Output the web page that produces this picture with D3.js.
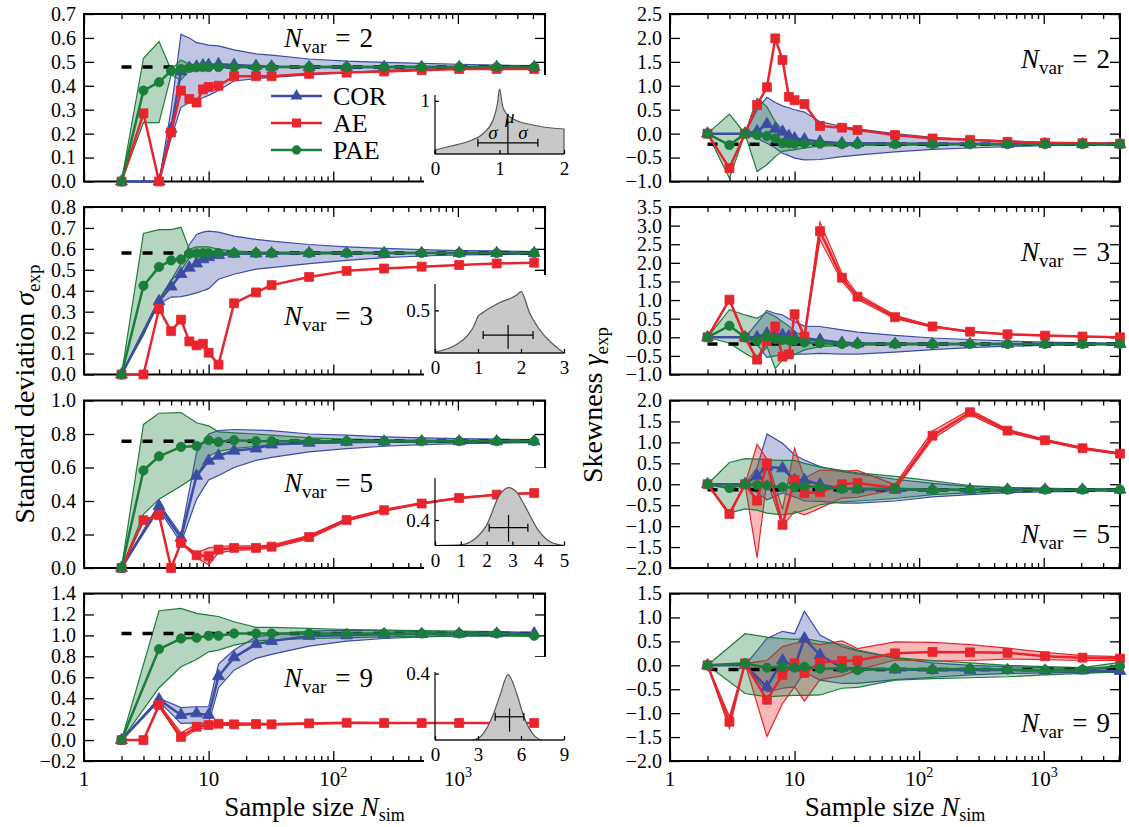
<!DOCTYPE html>
<html>
<head>
<meta charset="utf-8">
<script src="https://cdnjs.cloudflare.com/ajax/libs/d3/7.8.5/d3.min.js"></script>
<style>
  body { margin: 0; background: #fff; }
  svg text { font-family: "Liberation Serif", "Times New Roman", "DejaVu Serif", "Noto Serif", serif; }
</style>
</head>
<body>
<svg id="chart"></svg>
<script>
// sample sizes N_sim
var sampleSizes = [2,3,4,5,6,7,8,9,10,12,16,24,32,64,128,256,512,1024,2048,4096];
var seriesNames = ["COR","AE","PAE"];
var nVarValues = [2,3,5,9];

// true values (dashed)
var sdTrue = [0.478, 0.58, 0.757, 1.018];
var skewTrue = [-0.22, -0.18, -0.13, -0.09];

// tick labels
var xTicks = [1,10,100,1000];
var sdTicks = [
  [0,0.1,0.2,0.3,0.4,0.5,0.6,0.7],
  [0,0.1,0.2,0.3,0.4,0.5,0.6,0.7,0.8],
  [0,0.2,0.4,0.6,0.8,1.0],
  [-0.2,0,0.2,0.4,0.6,0.8,1.0,1.2,1.4]
];
var skewTicks = [
  [-1,-0.5,0,0.5,1,1.5,2,2.5],
  [-1,-0.5,0,0.5,1,1.5,2,2.5,3,3.5],
  [-2,-1.5,-1,-0.5,0,0.5,1,1.5,2],
  [-2,-1.5,-1,-0.5,0,0.5,1,1.5]
];

// standard deviation, N_var = 2
var sd2COR   = [0,null,0,0.22,0.46,0.475,0.48,0.485,0.487,0.49,0.487,0.483,0.48,0.478,0.478,0.478,0.478,0.478,0.478,0.478];
var sd2CORlo = [0,null,0,0.18,0.31,0.33,0.34,0.35,0.36,0.38,0.42,0.43,0.435,0.445,0.455,0.465,0.47,0.472,0.474,0.475];
var sd2CORhi = [0,null,0,0.3,0.615,0.6,0.58,0.575,0.57,0.567,0.55,0.533,0.528,0.512,0.503,0.498,0.494,0.49,0.486,0.484];
var sd2AE    = [0,0.285,0,0.205,0.38,0.345,0.33,0.385,0.395,0.40,0.44,0.44,0.44,0.45,0.455,0.46,0.465,0.47,0.47,0.47];
var sd2PAE   = [0,0.38,0.415,0.462,0.47,0.475,0.477,0.478,0.478,0.478,0.478,0.478,0.478,0.478,0.478,0.478,0.478,0.478,0.478,0.478];
var sd2PAElo = [0,0.246,0.246,0.445,0.424,0.465,0.47,0.472,0.473,0.475,0.476,0.477,0.477,0.477,0.477,0.477,0.477,0.477,0.477,0.477];
var sd2PAEhi = [0,0.515,0.585,0.466,0.508,0.49,0.485,0.483,0.482,0.48,0.48,0.479,0.479,0.479,0.479,0.479,0.479,0.479,0.479,0.479];

// standard deviation, N_var = 3
var sd3COR   = [0,null,0.35,0.42,0.48,0.51,0.53,0.55,0.56,0.57,0.577,0.578,0.578,0.58,0.58,0.58,0.58,0.58,0.58,0.58];
var sd3CORlo = [0,null,0.337,0.37,0.372,0.38,0.39,0.40,0.41,0.455,0.479,0.503,0.51,0.53,0.545,0.558,0.566,0.571,0.573,0.574];
var sd3CORhi = [0,null,0.36,0.45,0.53,0.62,0.669,0.68,0.685,0.68,0.661,0.645,0.637,0.621,0.61,0.602,0.596,0.592,0.59,0.587];
var sd3AE    = [0,0,0.313,0.207,0.262,0.158,0.139,0.147,0.104,0.047,0.34,0.392,0.427,0.466,0.495,0.506,0.515,0.523,0.53,0.534];
var sd3PAE   = [0,0.424,0.514,0.545,0.55,0.577,0.578,0.579,0.579,0.58,0.58,0.58,0.58,0.58,0.58,0.58,0.58,0.58,0.58,0.58];
var sd3PAElo = [0,0.187,0.353,0.447,0.495,0.558,0.566,0.568,0.571,0.574,0.575,0.576,0.577,0.577,0.578,0.578,0.578,0.578,0.578,0.578];
var sd3PAEhi = [0,0.674,0.692,0.692,0.703,0.598,0.61,0.61,0.61,0.598,0.59,0.585,0.584,0.583,0.582,0.582,0.582,0.582,0.582,0.582];

// standard deviation, N_var = 5
var sd5COR   = [0,null,0.37,null,0.18,null,0.55,null,0.64,0.67,0.70,0.713,0.737,0.747,0.753,0.755,0.756,0.756,0.756,0.756];
var sd5CORlo = [0,null,0.35,null,0.15,null,0.41,null,0.526,0.552,0.6,0.643,0.66,0.693,0.713,0.727,0.737,0.743,0.746,0.749];
var sd5CORhi = [0,null,0.385,null,0.2,null,0.69,null,0.80,0.82,0.827,0.823,0.82,0.80,0.793,0.783,0.777,0.772,0.769,0.767];
var sd5AE    = [0,0.285,0.315,0,0.15,null,0.076,null,0.07,0.11,0.12,0.12,0.127,0.185,0.287,0.345,0.385,0.418,0.438,0.448];
var sd5AElo  = [0,0.285,0.315,0,0.15,null,0.06,null,0.02,0.09,0.105,0.11,0.118,0.175,0.28,0.34,0.382,0.415,0.436,0.446];
var sd5AEhi  = [0,0.285,0.315,0,0.15,null,0.09,null,0.12,0.13,0.132,0.132,0.137,0.195,0.295,0.35,0.39,0.421,0.44,0.45];
var sd5PAE   = [0,0.582,0.667,null,0.723,null,0.729,null,0.763,0.753,0.763,0.757,0.757,0.757,0.757,0.757,0.757,0.757,0.757,0.757];
var sd5PAElo = [0,0.32,0.41,null,0.49,null,0.55,null,0.667,0.697,0.713,0.727,0.737,0.743,0.747,0.75,0.75,0.75,0.75,0.75];
var sd5PAEhi = [0,0.857,0.924,null,0.928,null,0.867,null,0.849,0.813,0.807,0.8,0.793,0.777,0.769,0.765,0.763,0.763,0.763,0.763];

// standard deviation, N_var = 9
var sd9COR   = [0,null,0.388,null,0.24,null,0.255,null,0.24,0.61,0.79,0.916,0.945,0.993,1.0,1.01,1.012,1.015,1.017,1.018];
var sd9CORlo = [0,null,0.37,null,0.16,null,0.165,null,0.16,0.5,0.668,0.78,0.818,0.897,0.945,0.97,0.986,0.996,1.0,1.0];
var sd9CORhi = [0,null,0.40,null,0.31,null,0.318,null,0.318,0.725,0.86,0.986,1.008,1.04,1.05,1.045,1.035,1.03,1.025,1.025];
var sd9AE    = [0,0,0.334,null,0.03,null,0.127,null,0.143,0.156,0.15,0.153,0.15,0.159,0.165,0.163,0.162,0.163,0.163,0.163];
var sd9AElo  = [0,0,0.32,null,0.005,null,0.1,null,0.125,0.14,0.14,0.145,0.143,0.153,0.16,0.158,0.158,0.16,0.16,0.16];
var sd9AEhi  = [0,0,0.345,null,0.07,null,0.15,null,0.16,0.17,0.165,0.162,0.158,0.165,0.17,0.168,0.166,0.166,0.166,0.166];
var sd9PAE   = [0,null,0.869,null,0.97,null,0.977,null,0.996,0.996,1.018,1.018,1.018,1.018,1.018,1.018,1.018,1.018,1.018,0.996];
var sd9PAElo = [0,null,0.5,null,0.7,null,0.77,null,0.843,0.859,0.907,0.948,0.955,0.97,0.977,0.986,0.99,0.993,0.993,0.99];
var sd9PAEhi = [0,null,1.235,null,1.257,null,1.21,null,1.194,1.18,1.13,1.076,1.076,1.066,1.056,1.05,1.045,1.04,1.035,1.03];

// skewness, N_var = 2
var sk2COR   = [0,null,0,0.05,0.2,0.1,0.04,-0.05,-0.1,-0.12,-0.17,-0.2,-0.2,-0.21,-0.21,-0.21,-0.22,-0.22,-0.22,-0.22];
var sk2CORlo = [0,null,0,-0.1,-0.2,-0.3,-0.41,-0.46,-0.51,-0.55,-0.54,-0.48,-0.45,-0.38,-0.33,-0.3,-0.27,-0.25,-0.24,-0.23];
var sk2CORhi = [0,null,0,0.5,0.76,0.65,0.58,0.54,0.5,0.45,0.25,0.15,0.1,0.0,-0.08,-0.12,-0.15,-0.18,-0.19,-0.2];
var sk2AE    = [0,-0.72,0,0.6,0.97,1.99,1.54,0.77,0.7,0.62,0.16,0.125,0.077,-0.03,-0.1,-0.13,-0.17,-0.19,-0.2,-0.21];
var sk2PAE   = [0,-0.24,0,-0.03,-0.05,-0.1,-0.2,-0.2,-0.21,-0.21,-0.21,-0.22,-0.22,-0.22,-0.22,-0.22,-0.22,-0.22,-0.22,-0.22];
var sk2PAElo = [0,-0.93,0,-0.79,-0.65,-0.48,-0.37,-0.35,-0.34,-0.3,-0.26,-0.25,-0.24,-0.24,-0.23,-0.23,-0.23,-0.23,-0.23,-0.23];
var sk2PAEhi = [0,0.41,0,0.74,0.56,0.25,0.08,-0.1,-0.1,-0.12,-0.17,-0.19,-0.2,-0.2,-0.21,-0.21,-0.21,-0.21,-0.21,-0.21];

// skewness, N_var = 3
var sk3COR   = [0,null,0,0,0.1,0.08,0.06,0.03,0,-0.05,-0.07,-0.15,-0.17,-0.18,-0.18,-0.18,-0.18,-0.18,-0.18,-0.18];
var sk3CORlo = [0,null,0,-0.2,-0.54,-0.5,-0.48,-0.46,-0.45,-0.45,-0.43,-0.45,-0.45,-0.4,-0.33,-0.28,-0.24,-0.22,-0.2,-0.2];
var sk3CORhi = [0,null,0,0.38,0.72,0.64,0.6,0.5,0.42,0.3,0.29,0.2,0.14,0.05,-0.02,-0.06,-0.1,-0.13,-0.15,-0.16];
var sk3AE    = [0,1.01,0,-0.6,-0.1,0.29,-0.52,-0.46,0.62,0.02,2.85,1.6,1.09,0.54,0.29,0.15,0.08,0.045,0.02,0];
var sk3AElo  = [0,1.01,0,-0.6,-0.1,0.29,-0.52,-0.46,0.62,0.02,2.62,1.5,1.02,0.5,0.27,0.14,0.075,0.04,0.015,-0.005];
var sk3AEhi  = [0,1.01,0,-0.6,-0.1,0.29,-0.52,-0.46,0.62,0.02,3.1,1.72,1.16,0.59,0.31,0.16,0.085,0.05,0.025,0.005];
var sk3PAE   = [0,0.31,0,-0.09,0.02,-0.05,-0.07,-0.08,-0.09,-0.14,-0.16,-0.18,-0.18,-0.18,-0.18,-0.18,-0.18,-0.18,-0.18,-0.18];
var sk3PAElo = [0,-0.16,-0.43,-0.61,-0.25,-0.84,-0.61,-0.56,-0.47,-0.34,-0.25,-0.22,-0.21,-0.2,-0.19,-0.19,-0.19,-0.19,-0.19,-0.19];
var sk3PAEhi = [0,0.74,0.6,0.51,0.67,0.56,0.42,0.3,0.15,0.02,-0.08,-0.13,-0.15,-0.16,-0.17,-0.17,-0.17,-0.17,-0.17,-0.17];

// skewness, N_var = 5
var sk5COR   = [0,null,0,0.2,0.42,null,0.38,null,0.1,0.1,-0.01,-0.1,-0.12,-0.13,-0.13,-0.13,-0.13,-0.13,-0.13,-0.13];
var sk5CORlo = [0,null,0,-0.2,-0.37,null,-0.21,null,-0.3,-0.4,-0.41,-0.45,-0.45,-0.4,-0.3,-0.25,-0.2,-0.18,-0.17,-0.16];
var sk5CORhi = [0,null,0,0.4,1.2,null,0.98,null,0.7,0.58,0.42,0.3,0.25,0.12,0.02,-0.05,-0.08,-0.1,-0.11,-0.11];
var sk5AE    = [0,-0.71,0,-0.39,0.5,null,-0.97,null,0.1,-0.21,-0.19,0,0.03,-0.09,1.16,1.72,1.28,1.05,0.86,0.73];
var sk5AElo  = [0,-0.75,0,-1.76,0.1,null,-1.0,null,-0.65,-0.73,-0.57,-0.33,-0.31,-0.13,1.08,1.66,1.24,1.03,0.84,0.71];
var sk5AEhi  = [0,-0.68,0,0.95,0.6,null,-0.6,null,0.86,0.15,0.34,0.31,0.33,-0.01,1.27,1.78,1.31,1.07,0.88,0.75];
var sk5PAE   = [0,-0.09,0,-0.02,-0.03,null,-0.07,null,-0.07,-0.04,-0.07,-0.11,-0.11,-0.11,-0.13,-0.13,-0.13,-0.13,-0.13,-0.13];
var sk5PAElo = [0,-0.69,-0.59,-0.62,-0.69,null,-0.73,null,-0.69,-0.62,-0.49,-0.42,-0.4,-0.34,-0.25,-0.2,-0.17,-0.15,-0.15,-0.14];
var sk5PAEhi = [0,0.52,0.61,0.6,0.58,null,0.57,null,0.57,0.5,0.41,0.33,0.27,0.19,0.08,-0.03,-0.08,-0.1,-0.11,-0.12];

// skewness, N_var = 9
var sk9COR   = [0,null,0,null,-0.45,null,0.1,null,-0.03,0.56,0.21,-0.05,-0.07,-0.09,-0.1,-0.1,-0.1,-0.11,-0.11,-0.12];
var sk9CORlo = [0,null,0,null,-0.56,null,-0.48,null,-0.45,-0.14,-0.31,-0.38,-0.38,-0.3,-0.25,-0.2,-0.17,-0.16,-0.15,-0.15];
var sk9CORhi = [0,null,0,null,0.56,null,0.71,null,0.66,1.13,0.63,0.39,0.3,0.15,0.05,0,-0.03,-0.05,-0.06,-0.07];
var sk9AE    = [0,-1.18,0.04,null,-0.72,null,-0.2,null,0.04,-0.16,0.06,0.09,0.1,0.25,0.28,0.27,0.26,0.19,0.16,0.14];
var sk9AElo  = [0,-1.32,0.04,null,-1.49,null,-0.8,null,-0.45,-0.75,-0.3,-0.22,-0.1,0.11,0.09,0.1,0.13,0.12,0.1,0.1];
var sk9AEhi  = [0,-1.07,0.04,null,0.1,null,0.39,null,0.46,0.49,0.43,0.51,0.35,0.49,0.48,0.43,0.36,0.27,0.2,0.18];
var sk9PAE   = [0,null,0.04,null,-0.05,null,-0.03,null,-0.05,-0.03,-0.07,-0.06,-0.1,-0.07,-0.09,-0.07,-0.09,-0.1,-0.09,-0.02];
var sk9PAElo = [0,null,-0.59,null,-0.66,null,-0.64,null,-0.63,-0.63,-0.62,-0.48,-0.46,-0.31,-0.28,-0.26,-0.24,-0.2,-0.17,-0.14];
var sk9PAEhi = [0,null,0.66,null,0.59,null,0.56,null,0.54,0.56,0.5,0.44,0.32,0.16,0.1,0.05,0,-0.03,-0.05,0.06];

// inset distributions (one per N_var)
var insetX2 = [0,0.25,0.5,0.75,0.9,0.97,1.0,1.05,1.1,1.2,1.5,2.0];
var insetY2 = [0.075,0.15,0.23,0.39,0.64,0.96,1.22,0.89,0.77,0.67,0.55,0.47];
var insetX3 = [0,0.5,0.75,0.9,1.0,1.1,1.5,1.9,2.0,2.2,2.5,2.8,3.0];
var insetY3 = [0.01,0.10,0.2,0.31,0.43,0.47,0.59,0.68,0.72,0.47,0.23,0.08,0.0];
var insetX5 = [0,1,1.5,2,2.5,2.85,3.2,3.5,4,4.5,5];
var insetY5 = [0,0.01,0.09,0.32,0.79,0.91,0.82,0.61,0.24,0.05,0];
var insetX9 = [0,2.5,3,4,4.5,5.1,5.7,6.2,7,7.5,9];
var insetY9 = [0,0,0.01,0.14,0.26,0.394,0.28,0.14,0.02,0,0];
var insetXTicks = [[0,1,2],[0,1,2,3],[0,1,2,3,4,5],[0,3,6,9]];
var insetYTicks = [[1],[0.5],[0.4],[0.4]];
var insetYMax = [1.11,0.81,1.06,0.41];
var insetMu = [1.13,1.7,2.85,5.2];
var insetSigma = [0.465,0.58,0.75,1.0];
var insetBarY = [0.21,0.21,0.28,0.14];
var insetBarV = [[0,0.67],[0.05,0.33],[0.06,0.48],[0.05,0.19]];

// ---------------- layout ----------------
var W = 1129, H = 827;
var svg = d3.select("#chart").attr("width", W).attr("height", H);
var colX = [[84, 545], [670, 1120]];
var xDomains = [[1, 5000], [1, 4096]];
var rowTops = [14, 207, 400.5, 593.5], rowH = 167.5;
var colors = {COR: "#3b4ca5", AE: "#e8252c", PAE: "#1b7d3a"};
var symbols = {COR: d3.symbolTriangle, AE: d3.symbolSquare, PAE: d3.symbolCircle};
var symSize = {COR: 62, AE: 80, PAE: 68};
var fontStack = '"Liberation Serif", "Times New Roman", "DejaVu Serif", "Noto Serif", serif';
var nvarPos = [[[284, 47], [284, 325], [284, 492], [284, 687]],
               [[1110, 68], [1110, 261], [1110, 543], [1110, 732]]];
var insetTop = [95, 284, 478, 672], insetBottom = [154, 353, 545.5, 740], insetBg = [75, 275, 468, 657];

var sdPanels = [
  [[sd2COR, sd2CORlo, sd2CORhi], [sd2AE, null, null], [sd2PAE, sd2PAElo, sd2PAEhi]],
  [[sd3COR, sd3CORlo, sd3CORhi], [sd3AE, null, null], [sd3PAE, sd3PAElo, sd3PAEhi]],
  [[sd5COR, sd5CORlo, sd5CORhi], [sd5AE, sd5AElo, sd5AEhi], [sd5PAE, sd5PAElo, sd5PAEhi]],
  [[sd9COR, sd9CORlo, sd9CORhi], [sd9AE, sd9AElo, sd9AEhi], [sd9PAE, sd9PAElo, sd9PAEhi]]
];
var skPanels = [
  [[sk2COR, sk2CORlo, sk2CORhi], [sk2AE, null, null], [sk2PAE, sk2PAElo, sk2PAEhi]],
  [[sk3COR, sk3CORlo, sk3CORhi], [sk3AE, sk3AElo, sk3AEhi], [sk3PAE, sk3PAElo, sk3PAEhi]],
  [[sk5COR, sk5CORlo, sk5CORhi], [sk5AE, sk5AElo, sk5AEhi], [sk5PAE, sk5PAElo, sk5PAEhi]],
  [[sk9COR, sk9CORlo, sk9CORhi], [sk9AE, sk9AElo, sk9AEhi], [sk9PAE, sk9PAElo, sk9PAEhi]]
];
var insetXs = [insetX2, insetX3, insetX5, insetX9];
var insetYs = [insetY2, insetY3, insetY5, insetY9];

function styleAxis(a, size) {
  a.select(".domain").remove();
  a.selectAll(".tick line").attr("stroke", "#000").attr("stroke-width", 1.3);
  a.attr("font-family", fontStack).attr("font-size", size);
  a.selectAll(".tick text").attr("fill", "#000");
  return a;
}

function drawPanel(col, row) {
  var g = svg.append("g");
  var x0 = colX[col][0], x1 = colX[col][1];
  var top = rowTops[row], bottom = top + rowH;
  var ticks = col === 0 ? sdTicks[row] : skewTicks[row];
  var x = d3.scaleLog().domain(xDomains[col]).range([x0, x1]);
  var y = d3.scaleLinear().domain([ticks[0], ticks[ticks.length - 1]]).range([bottom, top]);

  var minor = [];
  for (var k = 0; k < 4; k++) for (var m = 2; m <= 9; m++) {
    var v = m * Math.pow(10, k);
    if (v <= xDomains[col][1]) minor.push(v);
  }

  styleAxis(g.append("g").attr("transform", "translate(" + x0 + ",0)")
    .call(d3.axisLeft(y).tickValues(ticks).tickSizeInner(-10).tickSizeOuter(0).tickPadding(8)
      .tickFormat(d3.format(".1f"))), 20);
  styleAxis(g.append("g").attr("transform", "translate(" + x1 + ",0)")
    .call(d3.axisRight(y).tickValues(ticks).tickSizeInner(-10).tickSizeOuter(0).tickFormat("")), 20);
  [[d3.axisBottom, bottom], [d3.axisTop, top]].forEach(function (p) {
    styleAxis(g.append("g").attr("transform", "translate(0," + p[1] + ")")
      .call(p[0](x).tickValues(xTicks).tickSizeInner(-10).tickSizeOuter(0).tickFormat("")), 20);
    styleAxis(g.append("g").attr("transform", "translate(0," + p[1] + ")")
      .call(p[0](x).tickValues(minor).tickSizeInner(-5).tickSizeOuter(0).tickFormat("")), 20);
  });
  g.append("rect").attr("x", x0).attr("y", top).attr("width", x1 - x0).attr("height", rowH)
    .attr("fill", "none").attr("stroke", "#000").attr("stroke-width", 2);

  if (row === 3) {
    var lab = g.append("g").selectAll("text").data(xTicks).join("text")
      .attr("x", function (d) { return x(d); }).attr("y", bottom + 25)
      .attr("text-anchor", "middle").attr("font-size", 21);
    lab.each(function (d) {
      var t = d3.select(this);
      if (d < 100) { t.text(d); return; }
      t.append("tspan").text("10");
      t.append("tspan").attr("font-size", 14).attr("dy", -9).text(String(Math.round(Math.log10(d))));
    });
  }

  if (col === 0) {
    g.append("rect").attr("x", 424).attr("y", insetBg[row]).attr("width", 160)
      .attr("height", bottom + 3 - insetBg[row]).attr("fill", "#fff");
  }

  var data = col === 0 ? sdPanels[row] : skPanels[row];
  var Ns = sampleSizes;
  // bands
  data.forEach(function (s, si) {
    var lo = s[1], hi = s[2];
    if (!lo) return;
    var c = colors[seriesNames[si]];
    var ids = d3.range(Ns.length).filter(function (i) { return lo[i] !== null && hi[i] !== null; });
    g.append("path").datum(ids)
      .attr("d", d3.area().x(function (i) { return x(Ns[i]); })
        .y0(function (i) { return y(lo[i]); }).y1(function (i) { return y(hi[i]); }))
      .attr("fill", c).attr("fill-opacity", 0.32).attr("stroke", "none");
    [lo, hi].forEach(function (arr) {
      g.append("path").datum(ids)
        .attr("d", d3.line().x(function (i) { return x(Ns[i]); }).y(function (i) { return y(arr[i]); }))
        .attr("fill", "none").attr("stroke", c).attr("stroke-width", 1.2);
    });
  });
  // true value
  var tv = col === 0 ? sdTrue[row] : skewTrue[row];
  g.append("path").datum([Ns[0], Ns[Ns.length - 1]])
    .attr("d", d3.line().x(function (d) { return x(d); }).y(function () { return y(tv); }))
    .attr("fill", "none").attr("stroke", "#000").attr("stroke-width", 3.5)
    .attr("stroke-dasharray", "10,11");
  // means
  data.forEach(function (s, si) {
    var mean = s[0], name = seriesNames[si], c = colors[name];
    var ids = d3.range(Ns.length).filter(function (i) { return mean[i] !== null; });
    g.append("path").datum(ids)
      .attr("d", d3.line().x(function (i) { return x(Ns[i]); }).y(function (i) { return y(mean[i]); }))
      .attr("fill", "none").attr("stroke", c).attr("stroke-width", 2.5).attr("stroke-linejoin", "round");
    g.append("g").selectAll("path").data(ids).join("path")
      .attr("transform", function (i) { return "translate(" + x(Ns[i]) + "," + y(mean[i]) + ")"; })
      .attr("d", d3.symbol().type(symbols[name]).size(symSize[name]))
      .attr("fill", c).attr("stroke", c).attr("stroke-width", 0.8);
  });

  // N_var label
  var p = nvarPos[col][row];
  var t = g.append("text").attr("x", p[0]).attr("y", p[1]).attr("font-size", 27)
    .attr("text-anchor", col === 0 ? "start" : "end");
  t.append("tspan").attr("font-style", "italic").text("N");
  t.append("tspan").attr("font-size", 19).attr("dy", 6).text("var");
  t.append("tspan").attr("dy", -6).attr("dx", 9).text("=");
  t.append("tspan").attr("dx", 9).text(nVarValues[row]);

  if (col === 0) drawInset(g, row);
  if (col === 0 && row === 0) drawLegend(g);
}

function drawInset(g, i) {
  var xt = insetXTicks[i];
  var xs = d3.scaleLinear().domain([0, xt[xt.length - 1]]).range([435, 564]);
  var ys = d3.scaleLinear().domain([0, insetYMax[i]]).range([insetBottom[i], insetTop[i]]);
  var X = insetXs[i], Y = insetYs[i];
  g.append("path").datum(d3.range(X.length))
    .attr("d", d3.area().curve(d3.curveMonotoneX).x(function (k) { return xs(X[k]); })
      .y0(ys(0)).y1(function (k) { return ys(Y[k]); }))
    .attr("fill", "#c8c8c8").attr("stroke", "#555").attr("stroke-width", 1.2);
  styleAxis(g.append("g").attr("transform", "translate(0," + insetBottom[i] + ")")
    .call(d3.axisBottom(xs).tickValues(xt).tickSizeInner(-4).tickSizeOuter(0).tickPadding(8)
      .tickFormat(d3.format("d"))), 19);
  styleAxis(g.append("g").attr("transform", "translate(435,0)")
    .call(d3.axisLeft(ys).tickValues(insetYTicks[i]).tickSizeInner(-4).tickSizeOuter(0).tickPadding(5)
      .tickFormat(function (d) { return d === 1 ? "1" : d3.format(".1f")(d); })), 19);
  g.append("line").attr("x1", 435).attr("x2", 435).attr("y1", insetTop[i]).attr("y2", insetBottom[i])
    .attr("stroke", "#000").attr("stroke-width", 1.2);
  g.append("line").attr("x1", 435).attr("x2", 564).attr("y1", insetBottom[i]).attr("y2", insetBottom[i])
    .attr("stroke", "#000").attr("stroke-width", 1.2);
  // mean and sigma cross
  var mu = insetMu[i], sg = insetSigma[i], by = ys(insetBarY[i]);
  var eb = g.append("g").attr("stroke", "#000").attr("stroke-width", 1.2);
  eb.append("line").attr("x1", xs(mu - sg)).attr("x2", xs(mu + sg)).attr("y1", by).attr("y2", by);
  [mu - sg, mu + sg].forEach(function (v) {
    eb.append("line").attr("x1", xs(v)).attr("x2", xs(v)).attr("y1", by - 4).attr("y2", by + 4);
  });
  eb.append("line").attr("x1", xs(mu)).attr("x2", xs(mu))
    .attr("y1", ys(insetBarV[i][0])).attr("y2", ys(insetBarV[i][1]));
  if (i === 0) {
    [mu - sg / 2, mu + sg / 2].forEach(function (v) {
      g.append("text").attr("x", xs(v)).attr("y", by - 4).attr("text-anchor", "middle")
        .attr("font-size", 19).attr("font-style", "italic").text("σ");
    });
    g.append("text").attr("x", xs(mu) + 2).attr("y", ys(insetBarV[i][1]) + 5).attr("text-anchor", "middle")
      .attr("font-size", 19).attr("font-style", "italic").text("μ");
  }
}

function drawLegend(g) {
  var rows = [96, 123, 150];
  seriesNames.forEach(function (name, i) {
    var c = colors[name];
    g.append("line").attr("x1", 271).attr("x2", 322).attr("y1", rows[i]).attr("y2", rows[i])
      .attr("stroke", c).attr("stroke-width", 2.5);
    g.append("path").attr("transform", "translate(296.5," + rows[i] + ")")
      .attr("d", d3.symbol().type(symbols[name]).size(symSize[name])).attr("fill", c);
    g.append("text").attr("x", 333).attr("y", rows[i] + 9).attr("font-size", 26).text(name);
  });
}

for (var r = 0; r < 4; r++) { drawPanel(0, r); drawPanel(1, r); }

// axis titles
function yTitle(cx, cy, word, greek) {
  var t = svg.append("text").attr("transform", "translate(" + cx + "," + cy + ") rotate(-90)")
    .attr("text-anchor", "middle").attr("font-size", 28);
  t.append("tspan").text(word + " ");
  t.append("tspan").attr("font-style", "italic").text(greek);
  t.append("tspan").attr("font-size", 19).attr("dy", 6).text("exp");
}
yTitle(34, 394, "Standard deviation", "σ");
yTitle(602, 405, "Skewness", "γ");
[0, 1].forEach(function (c) {
  var t = svg.append("text").attr("x", (colX[c][0] + colX[c][1]) / 2).attr("y", 816)
    .attr("text-anchor", "middle").attr("font-size", 27);
  t.append("tspan").text("Sample size ");
  t.append("tspan").attr("font-style", "italic").text("N");
  t.append("tspan").attr("font-size", 18).attr("dy", 5).text("sim");
});
</script>
</body>
</html>
